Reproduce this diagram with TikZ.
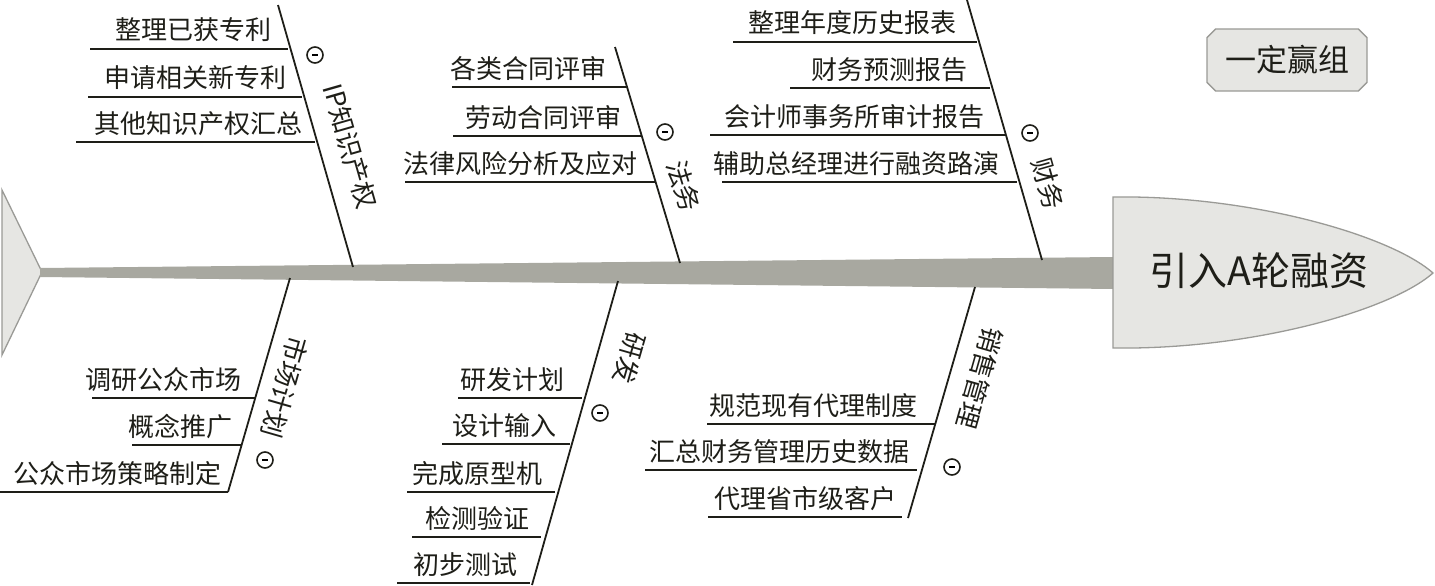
\documentclass[tikz,border=0pt]{standalone}
\usepackage{fontspec}
\setmainfont{Noto Sans CJK SC}
\usepackage{tikz}
\usetikzlibrary{shapes.misc}
\definecolor{fishInk}{HTML}{1E1E18}
\definecolor{fishSpine}{HTML}{A8A8A0}
\definecolor{fishFill}{HTML}{E6E6E3}
\definecolor{fishEdge}{HTML}{9A9A96}
\tikzset{
  bone/.style={line width=1.8pt,draw=fishInk},
  subline/.style={line width=1.8pt,draw=fishInk},
  item/.style={anchor=base east,inner sep=0pt,text=fishInk,
    font=\fontsize{26}{26}\selectfont},
  bonelabel/.style={inner sep=0pt,text=fishInk,font=\fontsize{26}{26}\selectfont},
  foldmark/.style={circle,draw=fishInk,line width=1.6pt,minimum size=16pt,
    inner sep=0pt},
  headtext/.style={text=fishInk,font=\fontsize{39}{39}\selectfont},
  teambox/.style={chamfered rectangle,chamfered rectangle xsep=5pt,
    draw=fishEdge,line width=1.3pt,fill=fishFill,minimum width=160pt,
    minimum height=62pt,text=fishInk,font=\fontsize{31}{31}\selectfont}
}

\begin{document}
\begin{tikzpicture}[x=1pt,y=-1pt]
  \useasboundingbox (0,0) rectangle (1435,586);
  % tail, spine and head
  \filldraw[fill=fishFill,draw=fishEdge,line width=1.3pt]
    (2,190) -- (42,272) -- (2,355) -- cycle;
  \fill[fishSpine] (40,268) -- (1114,257) -- (1114,289) -- (40,277) -- cycle;
  \filldraw[fill=fishFill,draw=fishEdge,line width=1.3pt]
    (1113,197) .. controls (1250,195) and (1390,235) .. (1433,273)
    .. controls (1390,311) and (1250,350) .. (1113,348) -- cycle;
  \node[headtext] (goal) at (1259,271) {引入A轮融资};
  \node[teambox] (team) at (1287,60) {一定赢组};

  % bones
  \coordinate (ipT) at (278,5);    \coordinate (ipB) at (353,267);
  \coordinate (lgT) at (615,47);   \coordinate (lgB) at (680,263);
  \coordinate (fnT) at (967,0);    \coordinate (fnB) at (1042,260);
  \coordinate (mkT) at (290,278);  \coordinate (mkB) at (228,492);
  \coordinate (rdT) at (618,281);  \coordinate (rdB) at (532,585);
  \coordinate (slT) at (975,287);  \coordinate (slB) at (908,518);
  \foreach \b in {ip,lg,fn,mk,rd,sl}
    \draw[bone] (\b T) -- (\b B);

  \node[bonelabel,rotate=-74] (ipLabel) at (350,146) {IP知识产权};
  \node[bonelabel,rotate=-73] (lgLabel) at (684,186) {法务};
  \node[bonelabel,rotate=-74] (fnLabel) at (1048,184) {财务};
  \node[bonelabel,rotate=-106] (mkLabel) at (285,387) {市场计划};
  \node[bonelabel,rotate=-106] (rdLabel) at (630,358) {研发};
  \node[bonelabel,rotate=-106] (slLabel) at (980,378) {销售管理};

  \foreach \b/\x/\y in {ip/315/55,lg/665/132,fn/1030/133,
                        mk/265/460,rd/600/413,sl/952/467}
    \node[foldmark] (\b Fold) at (\x,\y) {\rule{6pt}{1.8pt}};

  % sub-causes: underline y / left x / right x / text end / text
  \foreach \yy/\xl/\xr/\xt/\txt [count=\i] in {
    49/90/288/272/整理已获专利,
    97/88/302/287/申请相关新专利,
    142/76/315/303/其他知识产权汇总,
    87/452/627/607/各类合同评审,
    136/453/641/622/劳动合同评审,
    182/405/655/638/法律风险分析及应对,
    42/733/977/957/整理年度历史报表,
    88/790/990/968/财务预测报告,
    135/710/1005/985/会计师事务所审计报告,
    182/722/1017/1000/辅助总经理进行融资路演,
    398/92/255/242/调研公众市场,
    445/132/242/233/概念推广,
    492/0/228/222/公众市场策略制定,
    398/458/582/565/研发计划,
    444/442/570/557/设计输入,
    492/407/555/543/完成原型机,
    537/412/541/530/检测验证,
    583/397/530/518/初步测试,
    424/707/935/918/规范现有代理制度,
    470/645/917/910/汇总财务管理历史数据,
    517/708/902/897/代理省市级客户}{
      \draw[subline] (\xl,\yy) -- (\xr,\yy);
      \node[item] (item-\i) at (\xt,\yy-9) {\txt};
  }
\end{tikzpicture}
\end{document}
